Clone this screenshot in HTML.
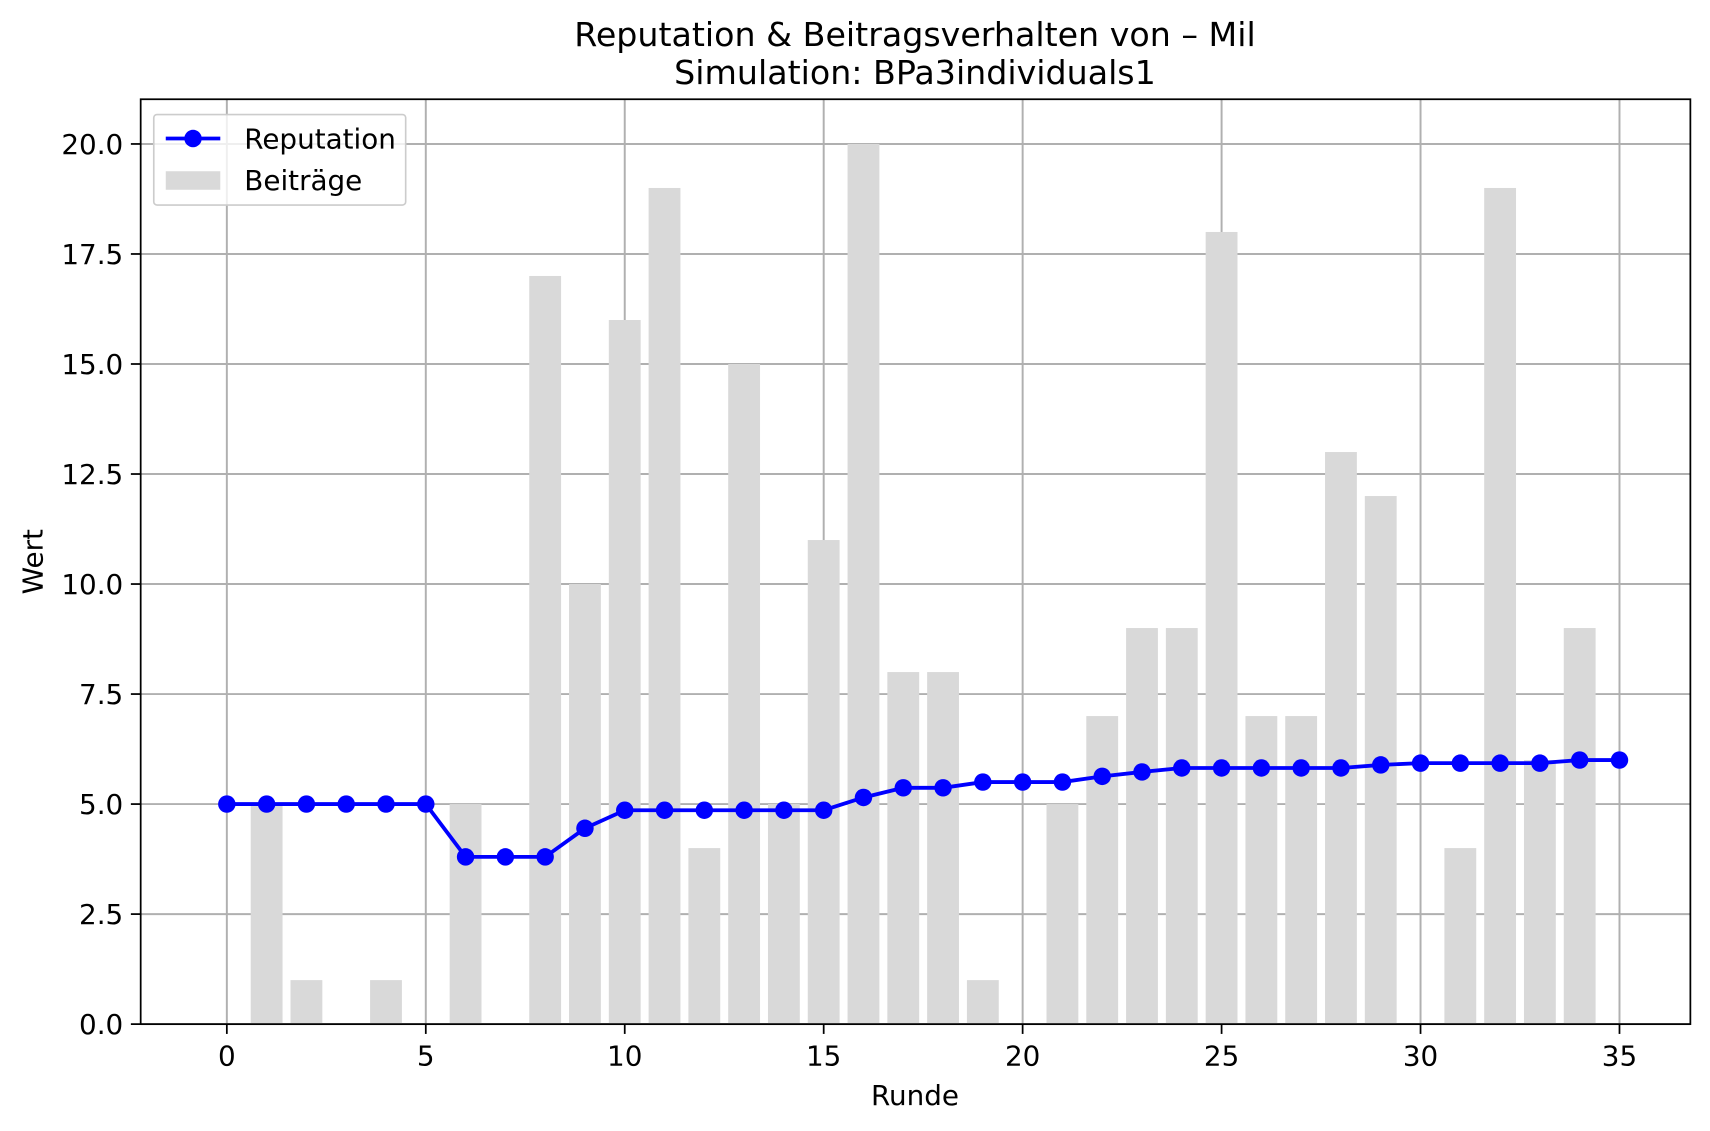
<!DOCTYPE html>
<html><head><meta charset="utf-8"><style>html,body{margin:0;padding:0;background:#fff}svg{display:block}text{font-family:"DejaVu Sans","Liberation Sans",sans-serif;fill:#000}</style></head>
<body>
<svg id="chart" width="1710" height="1131" viewBox="0 0 1568 1037" preserveAspectRatio="none" xmlns="http://www.w3.org/2000/svg">
<rect width="1568" height="1037" fill="#fff"/>
<g id="grid"></g>
<g id="bars"></g>
<g id="line"></g>
<rect x="129" y="91" width="1421" height="848" fill="none" stroke="#000" stroke-width="1.6"/>
<g id="ticks"></g>
<text x="839" y="42" font-size="30.5" text-anchor="middle">Reputation &amp; Beitragsverhalten von – Mil</text>
<text x="839" y="77" font-size="30.5" text-anchor="middle">Simulation: BPa3individuals1</text>
<text x="839" y="1013" font-size="25.5" text-anchor="middle">Runde</text>
<text x="39" y="515" font-size="25.5" text-anchor="middle" transform="rotate(-90 39 515)">Wert</text>
<g>
<rect x="141" y="105" width="231" height="83" rx="3" fill="#fff" fill-opacity="0.8" stroke="#ccc" stroke-width="1.5"/>
<g><line x1="152" y1="127" x2="202" y2="127" stroke="#0000ff" stroke-width="3.5"/><circle cx="177" cy="127" r="8" fill="#0000ff"/><text x="224" y="136" font-size="25.5">Reputation</text></g>
<g><rect x="152" y="157" width="50" height="17" fill="#d9d9d9"/><text x="224" y="174" font-size="25.5">Beiträge</text></g>
</g>
</svg>
<script>
const rounds = [0,1,2,3,4,5,6,7,8,9,10,11,12,13,14,15,16,17,18,19,20,21,22,23,24,25,26,27,28,29,30,31,32,33,34,35];
const contributions = [0,5,1,0,1,0,5,0,17,10,16,19,4,15,5,11,20,8,8,1,0,5,7,9,9,18,7,7,13,12,0,4,19,6,9,0];
const reputation = [5,5,5,5,5,5,3.8,3.8,3.8,4.45,4.86,4.86,4.86,4.86,4.86,4.86,5.15,5.37,5.37,5.5,5.5,5.5,5.63,5.73,5.82,5.82,5.82,5.82,5.82,5.89,5.93,5.93,5.93,5.93,6.0,6.0];
const xTicks = [0,5,10,15,20,25,30,35];
const yTicks = [0,2.5,5,7.5,10,12.5,15,17.5,20];
const yTickLabels = ["0.0","2.5","5.0","7.5","10.0","12.5","15.0","17.5","20.0"];
const NS="http://www.w3.org/2000/svg";
const xS = v => 208 + v*(1485-208)/35;
const yS = v => 939 - v*(939-132)/20;
function mk(tag, attrs, parent){const e=document.createElementNS(NS,tag);for(const k in attrs)e.setAttribute(k,attrs[k]);parent.appendChild(e);return e;}
const grid=document.getElementById('grid'), bars=document.getElementById('bars'), line=document.getElementById('line'), ticks=document.getElementById('ticks');
xTicks.forEach(t=>{
  const g=mk('line',{x1:xS(t),x2:xS(t),y1:91,y2:939,stroke:'#b0b0b0','stroke-width':1.8},grid);
  
  
  mk('line',{x1:xS(t),x2:xS(t),y1:939,y2:948,stroke:'#000','stroke-width':1.6},ticks);
  const l=mk('text',{x:xS(t),y:977,'font-size':25.5,'text-anchor':'middle'},ticks);l.textContent=t;
  
  
});
yTicks.forEach((t,i)=>{
  const g=mk('line',{x1:129,x2:1550,y1:yS(t),y2:yS(t),stroke:'#b0b0b0','stroke-width':1.8},grid);
  
  
  mk('line',{x1:120,x2:129,y1:yS(t),y2:yS(t),stroke:'#000','stroke-width':1.6},ticks);
  const l=mk('text',{x:113,y:yS(t)+9,'font-size':25.5,'text-anchor':'end'},ticks);l.textContent=yTickLabels[i];
  
  
});
const bw=0.8*(xS(1)-xS(0));
rounds.forEach((r,i)=>{
  const v=contributions[i]; if(v<=0) return;
  const b=mk('rect',{x:xS(r)-bw/2,y:yS(v),width:bw,height:yS(0)-yS(v),fill:'#d9d9d9'},bars);
  
  
});
const p=mk('polyline',{points:rounds.map((r,i)=>xS(r)+','+yS(reputation[i])).join(' '),fill:'none',stroke:'#0000ff','stroke-width':3.5},line);


rounds.forEach((r,i)=>{
  const c=mk('circle',{cx:xS(r),cy:yS(reputation[i]),r:8,fill:'#0000ff'},line);
  
  
});
</script>
</body></html>
